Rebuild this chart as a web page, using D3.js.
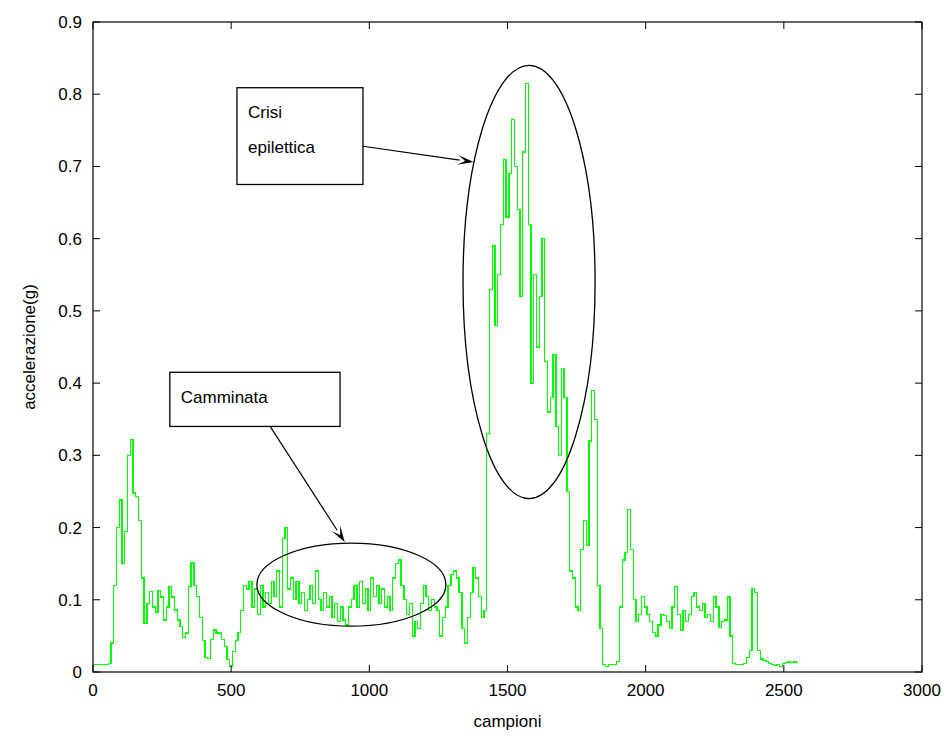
<!DOCTYPE html>
<html>
<head>
<meta charset="utf-8">
<script src="https://cdn.jsdelivr.net/npm/d3@7"></script>
<style>
  html, body { margin: 0; padding: 0; background: #ffffff; }
  svg { display: block; }
  text { font-family: "Liberation Sans", Arial, Helvetica, sans-serif; fill: #000; }
</style>
</head>
<body>
<svg id="chart" width="952" height="744"></svg>
<script>
// ---- data ----
const sampleStep = 10; // samples between consecutive values
const accel = [
  0.01,0.01,0.01,0.01,0.01,0.01,0.012,0.04,0.12,0.2,
  0.238,0.15,0.195,0.30,0.322,0.248,0.243,0.21,0.13,0.068,
  0.095,0.111,0.09,0.083,0.113,0.104,0.072,0.09,0.118,0.104,
  0.086,0.072,0.063,0.048,0.054,0.118,0.151,0.12,0.105,0.075,
  0.044,0.02,0.019,0.045,0.058,0.054,0.054,0.045,0.035,0.017,
  0.008,0.028,0.044,0.055,0.085,0.12,0.115,0.125,0.09,0.115,
  0.08,0.12,0.09,0.11,0.095,0.125,0.105,0.14,0.09,0.185,
  0.2,0.115,0.13,0.10,0.125,0.095,0.11,0.085,0.10,0.12,
  0.095,0.14,0.10,0.085,0.11,0.09,0.105,0.075,0.095,0.07,
  0.09,0.072,0.065,0.09,0.10,0.12,0.09,0.125,0.095,0.115,
  0.085,0.13,0.105,0.12,0.095,0.115,0.09,0.105,0.085,0.13,
  0.15,0.155,0.12,0.10,0.08,0.095,0.05,0.07,0.06,0.095,
  0.12,0.105,0.085,0.10,0.09,0.085,0.05,0.075,0.09,0.12,
  0.135,0.14,0.13,0.11,0.06,0.04,0.075,0.11,0.145,0.13,
  0.105,0.075,0.085,0.33,0.53,0.59,0.48,0.55,0.62,0.71,
  0.63,0.69,0.765,0.70,0.64,0.52,0.72,0.815,0.62,0.40,
  0.55,0.45,0.52,0.60,0.43,0.36,0.38,0.44,0.34,0.30,
  0.42,0.38,0.25,0.14,0.13,0.09,0.085,0.17,0.21,0.175,
  0.32,0.39,0.35,0.12,0.06,0.01,0.008,0.01,0.01,0.01,
  0.015,0.09,0.155,0.165,0.225,0.17,0.10,0.07,0.08,0.105,
  0.09,0.08,0.07,0.055,0.05,0.065,0.08,0.078,0.07,0.06,
  0.09,0.118,0.08,0.058,0.085,0.07,0.08,0.105,0.11,0.09,
  0.085,0.095,0.075,0.08,0.07,0.105,0.09,0.062,0.07,0.072,
  0.104,0.05,0.012,0.01,0.01,0.01,0.012,0.02,0.03,0.116,
  0.11,0.03,0.018,0.016,0.015,0.012,0.01,0.009,0.01,0.008,
  0.012,0.013,0.014,0.013,0.014,0.013
];
const xTicks = [0, 500, 1000, 1500, 2000, 2500, 3000];
const yTicks = [0, 0.1, 0.2, 0.3, 0.4, 0.5, 0.6, 0.7, 0.8, 0.9];
const xLabel = "campioni";
const yLabel = "accelerazione(g)";
const walkLabel = ["Camminata"];
const seizureLabel = ["Crisi", "epilettica"];

// ---- layout ----
const svg = d3.select("#chart");
const L = 93, T = 22, W = 829, H = 650;
const x = d3.scaleLinear().domain([0, 3000]).range([L, L + W]);
const y = d3.scaleLinear().domain([0, 0.9]).range([T + H, T]);

// plot line
const line = d3.line().x((d, i) => x(i * sampleStep)).y(d => y(d)).curve(d3.curveStep);
svg.append("path").datum(accel)
  .attr("d", line).attr("fill", "none")
  .attr("stroke", "#00ff00").attr("stroke-width", 1.3)
  .attr("shape-rendering", "crispEdges");

// axes box
svg.append("rect").attr("x", L).attr("y", T).attr("width", W).attr("height", H)
  .attr("fill", "none").attr("stroke", "#000").attr("stroke-width", 1.2);

const tl = 7;
const gx = svg.append("g");
xTicks.forEach(t => {
  gx.append("line").attr("x1", x(t)).attr("x2", x(t)).attr("y1", T + H).attr("y2", T + H - tl).attr("stroke", "#000");
  gx.append("line").attr("x1", x(t)).attr("x2", x(t)).attr("y1", T).attr("y2", T + tl).attr("stroke", "#000");
  gx.append("text").attr("x", x(t)).attr("y", T + H + 24).attr("text-anchor", "middle")
    .attr("font-size", 17).text(t);
});
const gy = svg.append("g");
yTicks.forEach(t => {
  gy.append("line").attr("x1", L).attr("x2", L + tl).attr("y1", y(t)).attr("y2", y(t)).attr("stroke", "#000");
  gy.append("line").attr("x1", L + W).attr("x2", L + W - tl).attr("y1", y(t)).attr("y2", y(t)).attr("stroke", "#000");
  gy.append("text").attr("x", L - 11).attr("y", y(t) + 6).attr("text-anchor", "end")
    .attr("font-size", 17).text(t === 0 ? "0" : d3.format(".1f")(t));
});

svg.append("text").attr("x", x(1500)).attr("y", 727).attr("text-anchor", "middle")
  .attr("font-size", 17).text(xLabel);
svg.append("text").attr("transform", `translate(35,${T + H / 2}) rotate(-90)`)
  .attr("text-anchor", "middle").attr("font-size", 17).text(yLabel);

// ---- annotations (positions in data units) ----
function ellipse(cx, cy, rxS, ryV) {
  svg.append("ellipse")
    .attr("cx", x(cx)).attr("cy", y(cy))
    .attr("rx", x(cx + rxS) - x(cx)).attr("ry", y(cy) - y(cy + ryV))
    .attr("fill", "none").attr("stroke", "#000").attr("stroke-width", 1.3);
}
ellipse(935, 0.121, 342, 0.0575);
ellipse(1578, 0.54, 239, 0.30);

function arrow(x1, y1, x2, y2) {
  const ax = x(x1), ay = y(y1), bx = x(x2), by = y(y2);
  const ang = Math.atan2(by - ay, bx - ax);
  const len = 14, wid = 5;
  const baseX = bx - len * Math.cos(ang), baseY = by - len * Math.sin(ang);
  svg.append("line").attr("x1", ax).attr("y1", ay).attr("x2", baseX).attr("y2", baseY)
    .attr("stroke", "#000").attr("stroke-width", 1.2);
  const px = -Math.sin(ang), py = Math.cos(ang);
  const notchX = bx - len * 0.6 * Math.cos(ang), notchY = by - len * 0.6 * Math.sin(ang);
  const pts = [
    [bx, by],
    [baseX - 2 * Math.cos(ang) + wid * px, baseY - 2 * Math.sin(ang) + wid * py],
    [notchX, notchY],
    [baseX - 2 * Math.cos(ang) - wid * px, baseY - 2 * Math.sin(ang) - wid * py]
  ];
  svg.append("polygon").attr("points", pts.map(p => p.join(",")).join(" ")).attr("fill", "#000");
}

function textBox(x0, v0, x1, v1, lines, lineYs) {
  svg.append("rect").attr("x", x(x0)).attr("y", y(v0))
    .attr("width", x(x1) - x(x0)).attr("height", y(v1) - y(v0))
    .attr("fill", "#fff").attr("stroke", "#000").attr("stroke-width", 1.3);
  lines.forEach((s, i) => {
    svg.append("text").attr("x", x(x0) + 11).attr("y", lineYs[i])
      .attr("font-size", 17).text(s);
  });
}
// Camminata box
textBox(278, 0.415, 894, 0.340, walkLabel, [403]);
arrow(641, 0.340, 911, 0.180);
// Crisi epilettica box
textBox(521, 0.809, 977, 0.675, seizureLabel, [118, 153]);
arrow(977, 0.728, 1377, 0.706);
</script>
</body>
</html>
